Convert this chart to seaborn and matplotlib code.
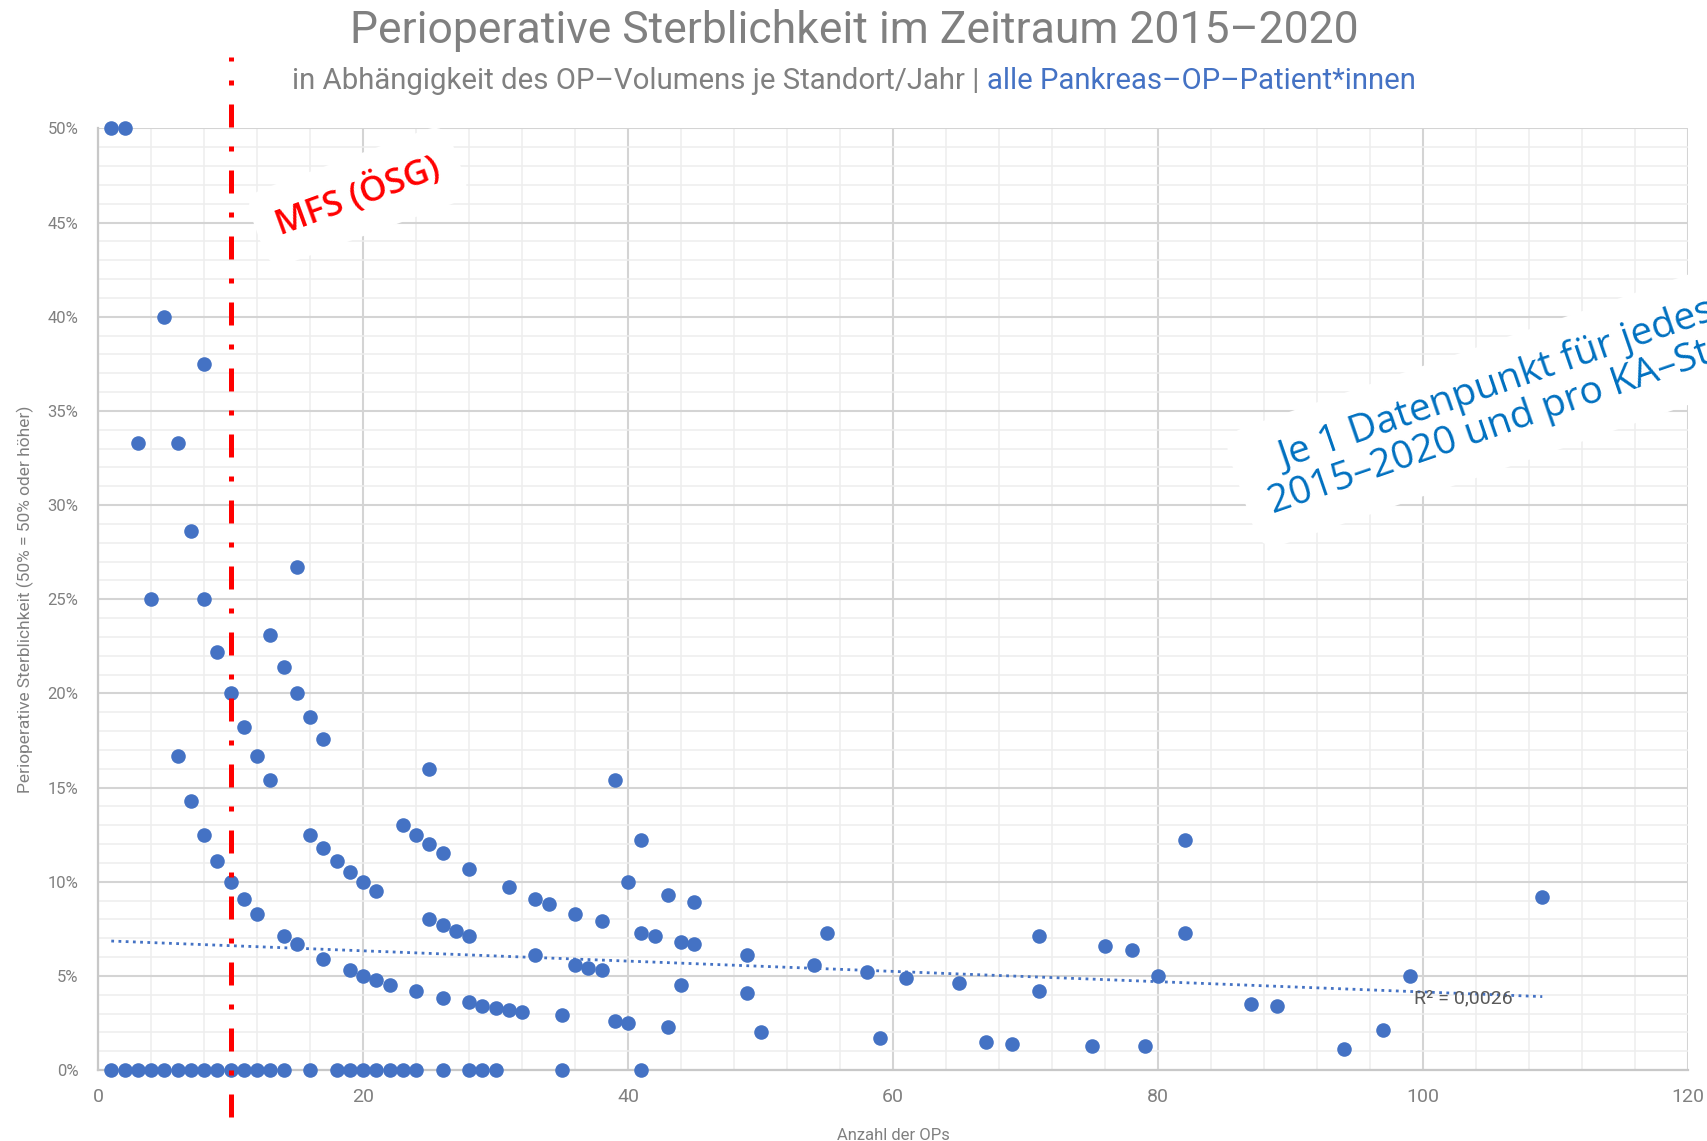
import matplotlib
matplotlib.use("Agg")
import matplotlib.pyplot as plt
from matplotlib import font_manager
from matplotlib.ticker import MultipleLocator, FuncFormatter
import pandas as pd
import seaborn as sns

# site-years with at least one death: OP volume and mortality in percent
volume = [1, 2, 5, 8, 3, 6, 7, 4, 8, 15, 13, 9, 14, 10, 15, 11, 16, 17, 6, 12,
          13, 7, 8, 9, 10, 11, 12, 14, 15,
          16, 17, 18, 19, 20, 21,
          17, 19, 20, 21, 22, 24, 26, 28, 29, 30, 31, 32, 35, 39, 40, 43, 50,
          59, 67, 69, 75, 79, 94, 97,
          23, 24, 25, 26, 28, 25,
          25, 26, 27, 28,
          31, 33, 34, 36, 38,
          33, 36, 37, 38,
          39, 41, 40, 43, 45, 41, 42, 44, 45, 44,
          49, 49, 54, 55, 58, 61, 65, 71, 71, 76, 78, 80, 82, 82, 87, 89, 99, 109]
mortality = [50, 50, 40, 37.5, 33.3, 33.3, 28.6, 25, 25, 26.7, 23.1, 22.2, 21.4, 20, 20, 18.2, 18.75, 17.6, 16.7, 16.7,
             15.4, 14.3, 12.5, 11.1, 10, 9.1, 8.3, 7.1, 6.7,
             12.5, 11.8, 11.1, 10.5, 10, 9.5,
             5.9, 5.3, 5.0, 4.8, 4.5, 4.2, 3.8, 3.6, 3.4, 3.3, 3.2, 3.1, 2.9, 2.6, 2.5, 2.3, 2.0,
             1.7, 1.5, 1.4, 1.3, 1.3, 1.1, 2.1,
             13.0, 12.5, 12.0, 11.5, 10.7, 16.0,
             8.0, 7.7, 7.4, 7.1,
             9.7, 9.1, 8.8, 8.3, 7.9,
             6.1, 5.6, 5.4, 5.3,
             15.4, 12.2, 10, 9.3, 8.9, 7.3, 7.1, 6.8, 6.7, 4.5,
             6.1, 4.1, 5.6, 7.3, 5.2, 4.9, 4.6, 7.1, 4.2, 6.6, 6.4, 5.0, 12.2, 7.3, 3.5, 3.4, 5.0, 9.2]
# site-years without any death
zero_volume = [1, 2, 3, 4, 5, 6, 7, 8, 9, 10, 11, 12, 13, 14, 16, 18, 19, 20, 21, 22,
               23, 24, 26, 28, 29, 30, 35, 41]

# linear trend as printed in the chart
trend_x = [1, 109]
trend_y = [6.85, 3.9]
r_squared = "0,0026"
mfs_threshold = 10

df = pd.concat([
    pd.DataFrame({"ops": volume, "mort": mortality}),
    pd.DataFrame({"ops": zero_volume, "mort": [0] * len(zero_volume)}),
], ignore_index=True)

sns.set_theme(style="white")

installed = {f.name for f in font_manager.fontManager.ttflist}
def pick(*names):
    return [n for n in names if n in installed] + ["DejaVu Sans"]

narrow = pick("Liberation Sans Narrow", "Roboto", "Open Sans")
plt.rcParams["font.family"] = pick("Open Sans", "Noto Sans")

blue = "#4472C4"
grey = "#808080"

fig = plt.figure(figsize=(17.08, 11.41), dpi=100)
ax = fig.add_axes([0.0574, 0.0622, 0.9309, 0.8252])

sns.scatterplot(data=df, x="ops", y="mort", ax=ax, color=blue, s=110,
                linewidth=0, clip_on=False, zorder=4)
sns.lineplot(x=trend_x, y=trend_y, ax=ax, color=blue, lw=2.0,
             linestyle=(0, (1, 1.6)), zorder=3)

ax.set_xlim(0, 120)
ax.set_ylim(0, 50)
ax.xaxis.set_major_locator(MultipleLocator(20))
ax.xaxis.set_minor_locator(MultipleLocator(4))
ax.yaxis.set_major_locator(MultipleLocator(5))
ax.yaxis.set_minor_locator(MultipleLocator(1))
ax.yaxis.set_major_formatter(FuncFormatter(lambda v, p: f"{v:.0f}%"))
ax.grid(which="major", color="#d4d4d4", lw=1.5)
ax.grid(which="minor", color="#eeeeee", lw=1.1)
ax.set_axisbelow(True)
for side in ["top", "right"]:
    ax.spines[side].set_visible(False)
for side in ["left", "bottom"]:
    ax.spines[side].set_color("#c8c8c8")
    ax.spines[side].set_linewidth(1.6)
ax.tick_params(which="both", length=0)
ax.tick_params(axis="y", pad=14, labelsize=12, labelcolor=grey)
ax.tick_params(axis="x", pad=13, labelsize=14, labelcolor=grey)
for lbl in ax.get_xticklabels() + ax.get_yticklabels():
    lbl.set_family(narrow)

ax.set_xlabel("Anzahl der OPs", fontsize=12, color=grey, family=narrow, labelpad=16)
ax.set_ylabel("Perioperative Sterblichkeit (50% = 50% oder höher)", fontsize=12.5,
              color=grey, family=narrow, labelpad=10)

# MFS threshold
ax.plot([mfs_threshold, mfs_threshold], [-2.5, 53.8], color="red", lw=3.6,
        linestyle=(0, (4.6, 3.8, 1, 3.8)), clip_on=False, zorder=5)

ax.text(19.6, 46.4, "MFS (ÖSG)", color="red", fontsize=25, fontweight="semibold",
        rotation=20, ha="center", va="center", rotation_mode="anchor", zorder=6,
        bbox=dict(boxstyle="round,pad=0.6", facecolor="white", edgecolor="none"))

ax.text(99.3, 3.8, f"R² = {r_squared}", color="#595959", fontsize=14,
        family=narrow, ha="left", va="center", zorder=6)

# note runs past the right edge of the picture, as in the original slide
fig.text(0.9026, 0.658, "Je 1 Datenpunkt für jedes Jahr\n2015–2020 und pro KA–Standort",
         color="#0070C0", fontsize=28, rotation=19, ha="center", va="center",
         rotation_mode="anchor", multialignment="center", linespacing=1.0,
         bbox=dict(boxstyle="round,pad=0.6", facecolor="white", edgecolor="none"))

# title and two-coloured subtitle
fig.text(0.5, 1 - 30 / 1141, "Perioperative Sterblichkeit im Zeitraum 2015–2020",
         ha="center", va="center", fontsize=32, color=grey, family=narrow)

sub_y = 1 - 81 / 1141
part1 = fig.text(0.5, sub_y, "in Abhängigkeit des OP–Volumens je Standort/Jahr | ",
                 ha="left", va="center", fontsize=21.2, color=grey, family=narrow)
part2 = fig.text(0.5, sub_y, "alle Pankreas–OP–Patient*innen",
                 ha="left", va="center", fontsize=21.2, color=blue, family=narrow)
fig.canvas.draw()
r = fig.canvas.get_renderer()
w1 = part1.get_window_extent(r).width / fig.bbox.width
w2 = part2.get_window_extent(r).width / fig.bbox.width
x0 = 0.5 - (w1 + w2) / 2
part1.set_x(x0)
part2.set_x(x0 + w1)

fig.savefig("out.png", dpi=100)
